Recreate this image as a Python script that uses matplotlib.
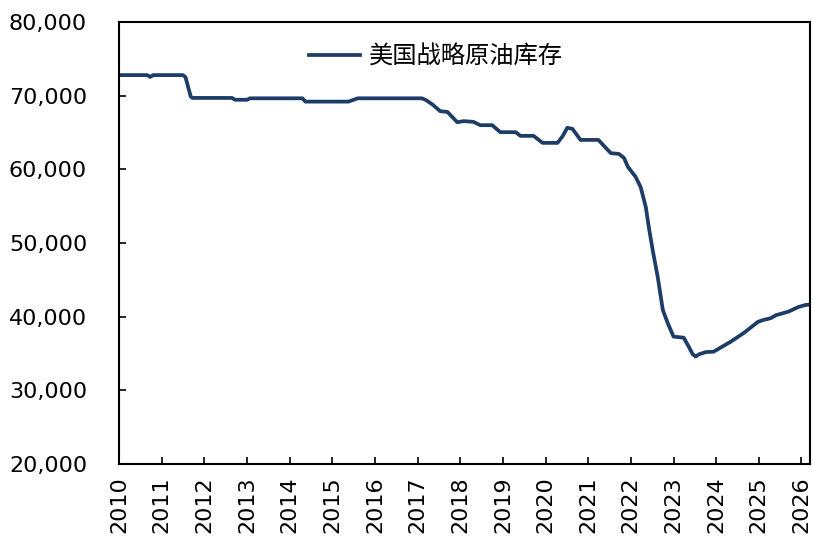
import numpy as np
import matplotlib.pyplot as plt
from matplotlib.ticker import FuncFormatter

# decimal year and inventory (thousand barrels)
years = [2010.00, 2010.66, 2010.73, 2010.80, 2011.50, 2011.56, 2011.62, 2011.68, 2011.72,
         2012.65, 2012.72, 2013.00, 2013.07, 2014.30, 2014.37, 2015.38, 2015.50, 2015.60,
         2017.10, 2017.20, 2017.35, 2017.53, 2017.70, 2017.93, 2018.08, 2018.31, 2018.47,
         2018.75, 2018.94, 2019.30, 2019.41, 2019.72, 2019.93, 2020.28, 2020.40, 2020.51,
         2020.63, 2020.82, 2021.24, 2021.40, 2021.53, 2021.72, 2021.84, 2021.93, 2022.11,
         2022.23, 2022.35, 2022.42, 2022.51, 2022.63, 2022.75, 2022.86, 2023.00, 2023.24,
         2023.36, 2023.45, 2023.52, 2023.60, 2023.76, 2023.94, 2024.34, 2024.65, 2024.98,
         2025.10, 2025.28, 2025.40, 2025.52, 2025.70, 2025.92, 2026.10, 2026.20]
stock = [72800, 72800, 72550, 72800, 72800, 72500, 71200, 69900, 69700,
         69700, 69450, 69450, 69650, 69650, 69200, 69200, 69450, 69650,
         69650, 69400, 68800, 67900, 67800, 66400, 66550, 66450, 66000,
         66000, 65050, 65050, 64550, 64550, 63600, 63600, 64500, 65650,
         65500, 64000, 64000, 63000, 62200, 62100, 61550, 60350, 59000,
         57600, 54900, 52200, 49100, 45400, 40900, 39200, 37300, 37150,
         35900, 34900, 34600, 34900, 35200, 35250, 36600, 37800, 39300,
         39550, 39800, 40200, 40400, 40700, 41300, 41600, 41650]
year_ticks = list(range(2010, 2027))
label = '美国战略原油库存'

fig = plt.figure(figsize=(8.13, 5.38), dpi=100)
ax = fig.add_axes([0.1464, 0.1375, 0.8499, 0.8215])

ax.plot(years, stock, color='#1d3c66', lw=2.7, label=label)

ax.set_xlim(2010, 2026.2)
ax.set_ylim(20000, 80000)
ax.set_xticks(year_ticks)
ax.set_xticklabels([str(y) for y in year_ticks], rotation=90)
ax.set_yticks(np.arange(20000, 80001, 10000))
ax.yaxis.set_major_formatter(FuncFormatter(lambda v, p: f'{int(v):,}'))
ax.tick_params(direction='in', length=5, width=1.2, labelsize=16, colors='black')
ax.tick_params(axis='y', pad=23)
ax.tick_params(axis='x', pad=9)
for s in ax.spines.values():
    s.set_linewidth(1.5)

ax.legend(loc='center', bbox_to_anchor=(0.459, 0.921), frameon=False,
          prop={'family': ['Noto Sans CJK SC', 'DejaVu Sans'], 'size': 17.5},
          handlelength=2.1, handletextpad=0.35)

fig.savefig('out.png', dpi=100)
